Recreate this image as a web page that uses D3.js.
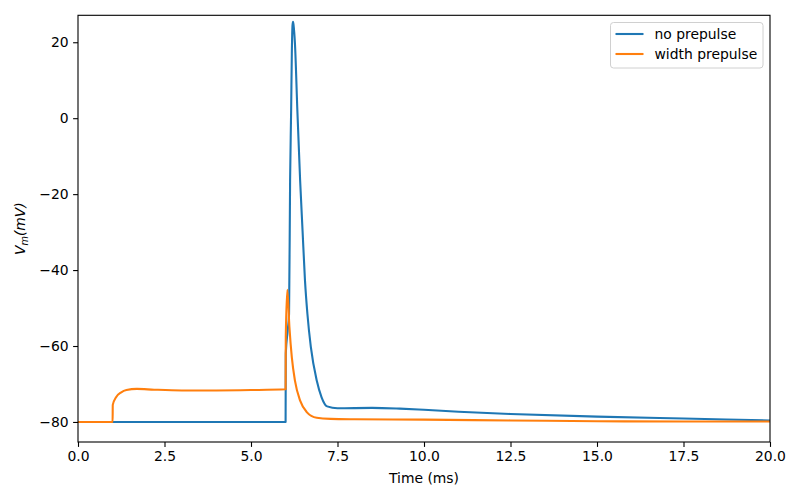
<!DOCTYPE html>
<html>
<head>
<meta charset="utf-8">
<script src="https://cdn.jsdelivr.net/npm/d3@7"></script>
<style>
  html, body { margin: 0; padding: 0; background: #fff; overflow: hidden; }
  svg { display: block; font-family: "DejaVu Sans", sans-serif; }
</style>
</head>
<body>
<svg id="chart"></svg>
<script>
// Membrane potential traces: [time ms, Vm mV]
const noPrepulse = [
  [0, -80], [2, -80], [4, -80], [6.0, -80], [6.005, -62], [6.06, -56],
  [6.1, -51.5], [6.13, -16.4], [6.16, 2], [6.18, 17], [6.2, 24.5],
  [6.215, 25.4], [6.23, 24.5], [6.27, 19.7], [6.34, 2], [6.42, -16.4],
  [6.49, -29.6], [6.56, -42.7], [6.63, -51.5], [6.73, -60.3], [6.9, -69.1],
  [7.04, -73.5], [7.2, -75.9], [7.5, -76.4], [8.5, -76.3], [9.3, -76.5],
  [10, -76.8], [11, -77.3], [12.5, -77.9], [15, -78.6], [17.5, -79.1], [20, -79.6]
];
const withPrepulse = [
  [0, -80], [1.0, -80], [1.005, -75.5], [1.1, -73.5], [1.25, -72.2],
  [1.4, -71.6], [1.7, -71.3], [2.2, -71.5], [3, -71.7], [4, -71.7],
  [5, -71.6], [6.0, -71.4], [6.005, -57.7], [6.05, -45.2], [6.11, -55],
  [6.18, -63], [6.27, -69.1], [6.42, -74.4], [6.61, -77.4], [6.9, -78.9],
  [7.3, -79.2], [8, -79.3], [10, -79.4], [12.5, -79.6], [15, -79.8],
  [17.5, -79.9], [20, -79.9]
];
const seriesNames = ["no prepulse", "width prepulse"];
const seriesColors = ["#1f77b4", "#ff7f0e"];
const xTicks = [0, 2.5, 5, 7.5, 10, 12.5, 15, 17.5, 20];
const yTicks = [-80, -60, -40, -20, 0, 20];

const width = 800, height = 500;
const margin = { top: 15.3, right: 30, bottom: 58, left: 78 };
const innerWidth = width - margin.left - margin.right;
const innerHeight = height - margin.top - margin.bottom;

const svg = d3.select("#chart")
  .attr("width", width)
  .attr("height", height);

const g = svg.append("g")
  .attr("transform", `translate(${margin.left},${margin.top})`);

const x = d3.scaleLinear().domain([0, 20]).range([0, innerWidth]);
const y = d3.scaleLinear().domain([-85.28, 27.1]).range([innerHeight, 0]);

// Clip lines to the axes area
g.append("clipPath").attr("id", "clip")
  .append("rect").attr("width", innerWidth).attr("height", innerHeight);

const line = d3.line()
  .x(d => x(d[0]))
  .y(d => y(d[1]))
  .curve(d3.curveMonotoneX);

[noPrepulse, withPrepulse].forEach((data, i) => {
  g.append("path")
    .datum(data)
    .attr("clip-path", "url(#clip)")
    .attr("fill", "none")
    .attr("stroke", seriesColors[i])
    .attr("stroke-width", 2.1)
    .attr("stroke-linejoin", "round")
    .attr("stroke-linecap", "square")
    .attr("d", line);
});

// Axes
const xAxis = g.append("g")
  .attr("transform", `translate(0,${innerHeight})`)
  .call(d3.axisBottom(x).tickValues(xTicks).tickFormat(d3.format(".1f")).tickSize(4.9).tickPadding(4.5));
const yAxis = g.append("g")
  .call(d3.axisLeft(y).tickValues(yTicks).tickFormat(d => d < 0 ? "\u2212" + Math.abs(d) : d).tickSize(4.9).tickPadding(4.5));

[xAxis, yAxis].forEach(a => {
  a.selectAll("text").style("font-size", "13.9px").attr("fill", "#000").style("font-family", "DejaVu Sans");
  a.selectAll("line").attr("stroke", "#000").attr("stroke-width", 1.1);
  a.select(".domain").remove();
});
// pixel offsets instead of em so the labels sit where expected
xAxis.selectAll("text").attr("dy", 10);
yAxis.selectAll("text").attr("dy", 4.5);

// Frame
g.append("rect")
  .attr("width", innerWidth)
  .attr("height", innerHeight)
  .attr("fill", "none")
  .attr("stroke", "#000")
  .attr("stroke-width", 1.1);

// Axis labels
g.append("text")
  .attr("x", innerWidth / 2)
  .attr("y", innerHeight + 41)
  .attr("text-anchor", "middle")
  .style("font-size", "13.9px")
  .text("Time (ms)");

const ylab = g.append("text")
  .attr("transform", `translate(${-53},${innerHeight / 2}) rotate(-90)`)
  .attr("text-anchor", "middle")
  .style("font-size", "13.9px")
  .style("font-style", "italic");
ylab.append("tspan").text("V");
ylab.append("tspan").attr("dy", 3).style("font-size", "9.7px").text("m");
ylab.append("tspan").attr("dy", -3).text("(mV)");

// Legend
const legend = svg.append("g")
  .attr("transform", `translate(610.5,22.5)`);
legend.append("rect")
  .attr("width", 152.5)
  .attr("height", 45.5)
  .attr("rx", 3)
  .attr("fill", "#fff")
  .attr("fill-opacity", 0.8)
  .attr("stroke", "#d0d0d0")
  .attr("stroke-width", 1);
seriesNames.forEach((name, i) => {
  const ly = 11.5 + i * 20;
  legend.append("line")
    .attr("x1", 5).attr("x2", 33)
    .attr("y1", ly).attr("y2", ly)
    .attr("stroke", seriesColors[i])
    .attr("stroke-width", 2.1);
  legend.append("text")
    .attr("x", 44)
    .attr("y", ly + 5)
    .style("font-size", "13.9px")
    .text(name);
});
</script>
</body>
</html>
